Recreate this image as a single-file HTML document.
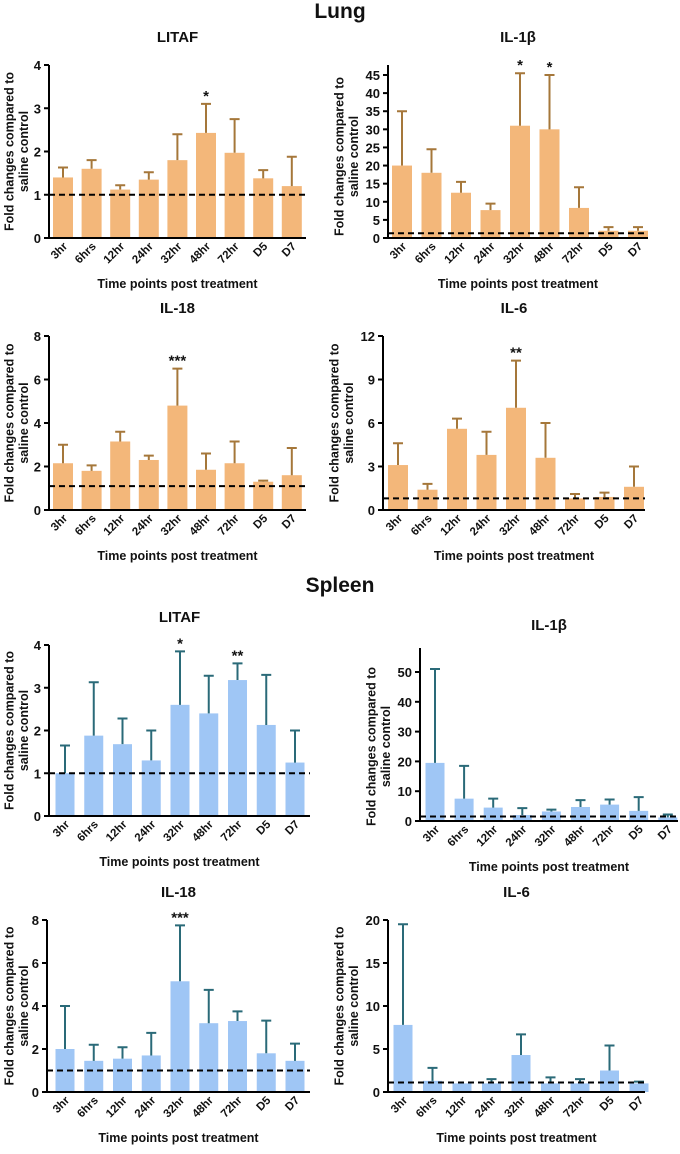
<!DOCTYPE html>
<html><head><meta charset="utf-8">
<style>
body{margin:0;background:#fff;}
svg text{font-family:"Liberation Sans",Arial,sans-serif;font-weight:bold;fill:#111;}
</style></head>
<body>
<svg id="c" width="680" height="1149" xmlns="http://www.w3.org/2000/svg">
<text x="340" y="18" text-anchor="middle" font-size="21">Lung</text>
<text x="340" y="592" text-anchor="middle" font-size="21">Spleen</text>
</svg>
<script>
const categories=["3hr","6hrs","12hr","24hr","32hr","48hr","72hr","D5","D7"];
const lungLitafMean=[1.4,1.6,1.12,1.35,1.8,2.43,1.97,1.38,1.2];
const lungLitafErr=[1.63,1.8,1.22,1.52,2.4,3.1,2.75,1.57,1.88];
const lungIl1bMean=[20,18,12.5,7.7,31,30,8.3,2,2];
const lungIl1bErr=[35,24.5,15.5,9.5,45.5,45,14,3,3];
const lungIl18Mean=[2.15,1.8,3.15,2.3,4.8,1.85,2.15,1.3,1.6];
const lungIl18Err=[3,2.05,3.6,2.5,6.5,2.6,3.15,1.35,2.85];
const lungIl6Mean=[3.1,1.4,5.6,3.8,7.05,3.6,0.8,0.9,1.6];
const lungIl6Err=[4.6,1.8,6.3,5.4,10.3,6,1.1,1.2,3];
const spleenLitafMean=[1,1.88,1.68,1.3,2.6,2.4,3.18,2.13,1.25];
const spleenLitafErr=[1.65,3.13,2.28,2.0,3.85,3.28,3.57,3.3,2.0];
const spleenIl1bMean=[19.5,7.5,4.5,2,3.2,4.7,5.5,3.4,1.2];
const spleenIl1bErr=[51,18.5,7.5,4.3,3.8,7,7.2,8,2.2];
const spleenIl18Mean=[2,1.45,1.55,1.7,5.15,3.2,3.3,1.8,1.45];
const spleenIl18Err=[4,2.2,2.08,2.75,7.75,4.75,3.75,3.32,2.25];
const spleenIl6Mean=[7.8,1.3,1,1,4.3,1,1,2.5,1];
const spleenIl6Err=[19.5,2.8,1,1.5,6.7,1.7,1.5,5.4,1.2];
const baselines=[1,1.3,1.1,0.8,1,1.5,1,1.1];

const NS="http://www.w3.org/2000/svg";
const svg=document.getElementById('c');
function mk(t,a,p){const e=document.createElementNS(NS,t);for(const k in a)e.setAttribute(k,a[k]);(p||svg).appendChild(e);return e;}

const panels=[
 {name:"lung-litaf",title:"LITAF",mean:lungLitafMean,err:lungLitafErr,ax:49,top:65,bot:238,ymax:4,step:1,axTop:65,end:306,x0:63,dx:28.6,bw:20,fill:"#f3b77a",ec:"#a5773a",ty:42,sig:{5:"*"}},
 {name:"lung-il1b",title:"IL-1β",mean:lungIl1bMean,err:lungIl1bErr,ax:388,top:75,bot:238,ymax:45,step:5,axTop:65,end:648,x0:402,dx:29.5,bw:20,fill:"#f3b77a",ec:"#a5773a",ty:42,sig:{4:"*",5:"*"}},
 {name:"lung-il18",title:"IL-18",mean:lungIl18Mean,err:lungIl18Err,ax:49,top:336,bot:510,ymax:8,step:2,axTop:336,end:306,x0:63,dx:28.6,bw:20,fill:"#f3b77a",ec:"#a5773a",ty:313,sig:{4:"***"}},
 {name:"lung-il6",title:"IL-6",mean:lungIl6Mean,err:lungIl6Err,ax:383,top:336,bot:510,ymax:12,step:3,axTop:336,end:645,x0:398,dx:29.5,bw:20,fill:"#f3b77a",ec:"#a5773a",ty:313,sig:{4:"**"}},
 {name:"spleen-litaf",title:"LITAF",mean:spleenLitafMean,err:spleenLitafErr,ax:49,top:645,bot:816,ymax:4,step:1,axTop:645,end:310,x0:65,dx:28.75,bw:19,fill:"#9fc6f5",ec:"#2a6a78",ty:622,sig:{4:"*",6:"**"}},
 {name:"spleen-il1b",title:"IL-1β",mean:spleenIl1bMean,err:spleenIl1bErr,ax:420,top:672,bot:821,ymax:50,step:10,axTop:648,end:678,x0:435,dx:29.1,bw:19,fill:"#9fc6f5",ec:"#2a6a78",ty:630,sig:{}},
 {name:"spleen-il18",title:"IL-18",mean:spleenIl18Mean,err:spleenIl18Err,ax:47,top:920,bot:1092,ymax:8,step:2,axTop:920,end:310,x0:65,dx:28.75,bw:19,fill:"#9fc6f5",ec:"#2a6a78",ty:897,sig:{4:"***"}},
 {name:"spleen-il6",title:"IL-6",mean:spleenIl6Mean,err:spleenIl6Err,ax:388,top:920,bot:1092,ymax:20,step:5,axTop:920,end:645,x0:403,dx:29.5,bw:19,fill:"#9fc6f5",ec:"#2a6a78",ty:897,sig:{}}
];

panels.forEach((p,pi)=>{
 const g=mk('g',{});
 
 
 const y=v=>p.bot-(v/p.ymax)*(p.bot-p.top);
 const cx=i=>p.x0+i*p.dx;
 const t=mk('text',{x:(p.ax+p.end)/2,y:p.ty,'text-anchor':'middle','font-size':15},g);t.textContent=p.title;
 
 
 p.mean.forEach((m,i)=>{
  const r=mk('rect',{x:cx(i)-p.bw/2,y:y(m),width:p.bw,height:p.bot-y(m),fill:p.fill},g);
  
  
  const e=p.err[i];
  if(e>m){
   const l=mk('path',{d:`M${cx(i)},${y(m)}V${y(e)}M${cx(i)-5},${y(e)}H${cx(i)+5}`,stroke:p.ec,'stroke-width':2,fill:'none'},g);
   
   
  }
  if(p.sig[i]){
   const s=mk('text',{x:cx(i),y:y(e)-3,'text-anchor':'middle','font-size':15,'font-weight':'normal'},g);s.textContent=p.sig[i];
   
   
  }
  const lb=mk('text',{transform:`translate(${cx(i)+5},${p.bot+9}) rotate(-45)`,'text-anchor':'end','font-size':11.5},g);lb.textContent=categories[i];
  
  
 });
 const bl=mk('line',{x1:p.ax,x2:p.end,y1:y(baselines[pi]),y2:y(baselines[pi]),stroke:'#000','stroke-width':2,'stroke-dasharray':'6,4'},g);
 
 
 const ax=mk('path',{d:`M${p.ax},${p.axTop}V${p.bot}H${p.end}`,stroke:'#000','stroke-width':2,fill:'none'},g);
 
 
 for(let v=0;v<=p.ymax+1e-9;v+=p.step){
  mk('line',{x1:p.ax-5,x2:p.ax,y1:y(v),y2:y(v),stroke:'#000','stroke-width':2},g);
  const tl=mk('text',{x:p.ax-8,y:y(v)+5,'text-anchor':'end','font-size':13},g);tl.textContent=v;
  
  
 }
 const xt=mk('text',{x:(p.ax+p.end)/2,y:p.bot+50,'text-anchor':'middle','font-size':12.5},g);xt.textContent='Time points post treatment';
 
 
 const mid=(p.top+p.bot)/2, yx=Math.max(p.ax-(p.ymax>=10?42:35),16);
 const yt=mk('text',{transform:`translate(${yx},${mid}) rotate(-90)`,'text-anchor':'middle','font-size':12.5},g);
 
 
 const t1=mk('tspan',{x:0,dy:'-0.2em'},yt);t1.textContent='Fold changes compared to';
 const t2=mk('tspan',{x:0,dy:'1.15em'},yt);t2.textContent='saline control';
});
</script>
</body></html>
